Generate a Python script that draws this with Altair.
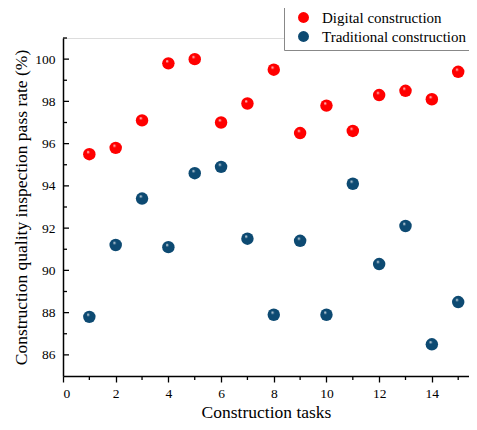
import altair as alt
import pandas as pd

tasks = list(range(1, 16))
digital = [95.5, 95.8, 97.1, 99.8, 100.0, 97.0, 97.9, 99.5, 96.5, 97.8, 96.6, 98.3, 98.5, 98.1, 99.4]
traditional = [87.8, 91.2, 93.4, 91.1, 94.6, 94.9, 91.5, 87.9, 91.4, 87.9, 94.1, 90.3, 92.1, 86.5, 88.5]
series_names = ["Digital construction", "Traditional construction"]
series_colors = ["#ff0000", "#0d4a72"]
x_major = [0, 2, 4, 6, 8, 10, 12, 14]
x_minor = [1, 3, 5, 7, 9, 11, 13, 15]
y_major = [86, 88, 90, 92, 94, 96, 98, 100]
y_minor = [87, 89, 91, 93, 95, 97, 99, 101]

FONT = "Liberation Serif"
W, H = 406, 338

df = pd.DataFrame({
    "task": tasks * 2,
    "rate": digital + traditional,
    "series": [series_names[0]] * len(tasks) + [series_names[1]] * len(tasks),
})

xs = alt.Scale(domain=[0, 15.41], nice=False, zero=False)
ys = alt.Scale(domain=[85, 101], nice=False, zero=False)

xax = alt.Axis(values=x_major, format="d", tickSize=6, tickWidth=1.3,
               labelPadding=4, title="Construction tasks",
               titleBaseline="alphabetic", titleY=41)
yax = alt.Axis(values=y_major, format="d", tickSize=0, labelPadding=8,
               title="Construction quality inspection pass rate (%)", titlePadding=4)


def grad(c):
    return alt.RadialGradient(
        gradient="radial",
        stops=[alt.GradientStop(offset=0, color="white"),
               alt.GradientStop(offset=0.25, color=c),
               alt.GradientStop(offset=1, color=c)],
        x1=0.38, y1=0.3, r1=0.0, x2=0.5, y2=0.5, r2=0.55,
    )

base = alt.Chart(df)

legend_layer = base.mark_circle(size=150, opacity=0).encode(
    x=alt.X("task:Q", scale=xs, axis=xax),
    y=alt.Y("rate:Q", scale=ys, axis=yax),
    color=alt.Color("series:N", scale=alt.Scale(domain=series_names, range=series_colors),
                    legend=alt.Legend(title=None, orient="none", legendX=221, legendY=-33,
                                      symbolType="circle", symbolSize=120, symbolOpacity=1,
                                      labelFont=FONT, labelFontSize=15, labelColor="black",
                                      strokeColor="#888888", fillColor="white", padding=5,
                                      rowPadding=3, symbolOffset=7, labelOffset=11,
                                      labelLimit=300)),
)

pts = []
for name, col in zip(series_names, series_colors):
    pts.append(base.transform_filter(alt.datum.series == name).mark_circle(
        size=155, opacity=1, fill=grad(col)).encode(
        x=alt.X("task:Q", scale=xs), y=alt.Y("rate:Q", scale=ys)))

ymaj = alt.Chart(pd.DataFrame({"v": y_major})).mark_rule(color="black", strokeWidth=1.3).encode(
    y=alt.Y("v:Q", scale=ys), x=alt.value(0), x2=alt.value(6))
ymin = alt.Chart(pd.DataFrame({"v": y_minor})).mark_rule(color="black", strokeWidth=1.3).encode(
    y=alt.Y("v:Q", scale=ys), x=alt.value(0), x2=alt.value(4))
xmin = alt.Chart(pd.DataFrame({"v": x_minor})).mark_rule(color="black", strokeWidth=1.3).encode(
    x=alt.X("v:Q", scale=xs), y=alt.value(H), y2=alt.value(H + 4))

chart = alt.layer(legend_layer, ymaj, ymin, xmin, *pts).properties(
    width=W, height=H,
    autosize=alt.AutoSizeParams(type="none"),
    padding={"left": 55, "top": 30, "right": 0, "bottom": 46},
).configure_view(stroke=None).configure(background="white").configure_axis(
    labelFont=FONT, labelFontSize=13.5, labelColor="black", titleFont=FONT, titleFontSize=17.5,
    titleFontWeight="normal", titleColor="black", domainColor="black", domainWidth=1.5,
    tickColor="black", grid=False,
)

chart.save("out.html", embed_options={"renderer": "svg", "actions": False})
